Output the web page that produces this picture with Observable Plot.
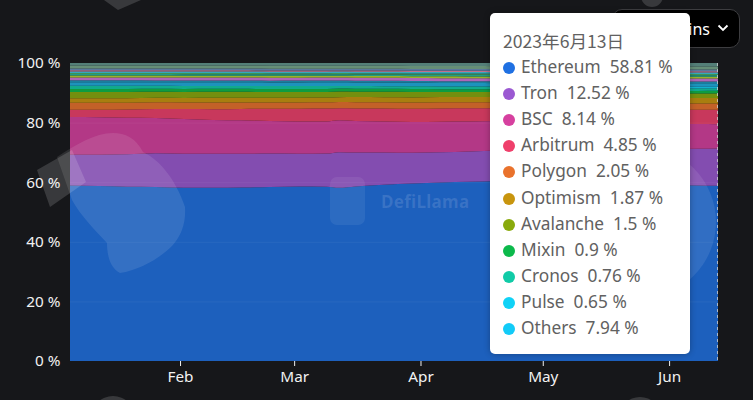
<!DOCTYPE html>
<html><head><meta charset="utf-8">
<script src="https://cdn.jsdelivr.net/npm/d3@7"></script>
<script src="https://cdn.jsdelivr.net/npm/@observablehq/plot@0.6"></script>
<style>
html,body{margin:0;padding:0;background:#16171a;}
#wrap{position:relative;width:753px;height:400px;overflow:hidden;font-family:"Noto Sans","Noto Sans CJK SC",sans-serif;}
#chart{position:absolute;left:0;top:0;}
#deco{position:absolute;left:0;top:0;pointer-events:none;}
#wm{position:absolute;left:330px;top:177px;width:150px;height:48px;pointer-events:none;}
#wm .logo{position:absolute;left:0;top:0;width:35px;height:48px;border-radius:7px;background:rgba(255,255,255,0.07);}
#wm .txt{position:absolute;left:51px;top:13px;font:700 17px "Noto Sans",sans-serif;color:rgba(255,255,255,0.13);letter-spacing:0.3px;}
#btn{position:absolute;left:612px;top:9px;width:128px;height:39px;border:1px solid #3d3d40;border-radius:10px;background:#000;color:#fff;font-size:16px;box-sizing:border-box;}
#btn .t{position:absolute;right:29px;top:8px;}
#btn svg{position:absolute;right:10px;top:14px;}
#tip{position:absolute;left:490px;top:13px;width:200px;height:341px;background:#fff;border-radius:5px;box-shadow:0 0 6px rgba(0,0,0,0.3);color:#616161;font-size:17.3px;}
#tip .date{position:absolute;left:13px;top:15px;line-height:26px;font-size:17.6px;font-family:"Noto Sans CJK SC","Noto Sans",sans-serif;}
#tip .row{position:absolute;left:13px;line-height:26px;white-space:pre;}
#tip .dot{display:inline-block;width:12px;height:12px;border-radius:50%;margin-right:6px;vertical-align:-1px;}
</style></head><body>
<div id="wrap">
  <div id="chart"></div>
  <svg id="deco" width="753" height="400">
    <g fill="#fff">
      <path fill-opacity="0.1" d="M57 157 C75 145 95 133 113 133 C125 133 136 138 143 152 C160 160 176 180 185 207 C186 222 182 235 172 246 C160 258 140 270 120 273 C110 268 107 255 107 243 C95 230 80 215 72 200 Z"/>
      <polygon fill-opacity="0.15" points="37,170 72,150 86,182 50,207"/>
      <circle fill-opacity="0.09" cx="640" cy="222" r="76"/>
      <circle fill-opacity="0.15" cx="113" cy="418" r="22"/>
      <circle fill-opacity="0.15" cx="640" cy="418" r="21"/>
      <polygon fill-opacity="0.15" points="104,0 141,0 118,10"/>
      <circle fill-opacity="0.15" cx="652" cy="-4" r="11"/>
    </g>
  </svg>
  <div id="wm"><div class="logo"></div><div class="txt">DefiLlama</div></div>
  <div id="btn"><span class="t">Chains</span><svg width="12" height="8" viewBox="0 0 12 8"><path d="M1.5 1.5 L6 6 L10.5 1.5" fill="none" stroke="#fff" stroke-width="1.8"/></svg></div>
  <div id="tip"></div>
</div>
<script>
// ---- data (percent share of stablecoin mcap) ----
const dates = ["2023-01-05","2023-01-12","2023-01-19","2023-01-26","2023-02-02","2023-02-09","2023-02-16","2023-02-23","2023-03-02","2023-03-09","2023-03-12","2023-03-16","2023-03-23","2023-03-30","2023-04-06","2023-04-13","2023-04-20","2023-04-27","2023-05-04","2023-05-11","2023-05-18","2023-05-25","2023-06-01","2023-06-08","2023-06-13"];
const ethereum  = [58.6,58.4,58.2,58.0,57.8,57.9,58.0,58.2,58.4,58.5,58.3,58.6,59.0,59.3,59.5,59.6,59.8,60.0,60.0,59.8,59.5,59.2,59.0,58.9,58.81];
const tron      = [10.3,10.5,10.8,11.2,11.4,11.4,11.3,11.2,11.0,11.1,12.0,11.4,10.8,10.3,10.1,10.1,10.1,10.1,10.3,10.7,11.1,11.6,12.0,12.3,12.52];
const bsc       = [12.6,12.5,12.2,11.8,11.6,11.3,11.2,10.9,10.8,10.8,10.7,10.6,10.4,10.3,10.2,10.0,9.8,9.5,9.3,9.1,8.9,8.7,8.5,8.3,8.14];
const arbitrum  = [2.4,2.5,2.8,3.0,3.3,3.6,3.8,4.1,4.3,4.3,4.1,4.2,4.3,4.4,4.4,4.4,4.3,4.4,4.5,4.5,4.7,4.7,4.8,4.8,4.85];
const polygon   = [2.3,2.3,2.2,2.2,2.2,2.2,2.1,2.1,2.1,2.1,2.1,2.1,2.1,2.1,2.1,2.0,2.0,2.0,2.0,2.0,2.0,2.0,2.0,2.05,2.05];
const optimism  = [1.5,1.5,1.5,1.5,1.5,1.6,1.6,1.6,1.6,1.6,1.6,1.7,1.7,1.7,1.7,1.7,1.7,1.8,1.8,1.8,1.8,1.8,1.8,1.85,1.87];
const avalanche = [2.1,2.1,2.1,2.0,2.0,2.0,2.0,1.9,1.9,1.9,1.9,1.8,1.8,1.8,1.7,1.7,1.7,1.6,1.6,1.6,1.6,1.5,1.5,1.5,1.5];
const mixin     = [1.0,1.0,1.0,1.0,1.0,1.0,1.0,1.0,1.0,1.0,1.0,1.0,1.0,1.0,0.9,0.9,0.9,0.9,0.9,0.9,0.9,0.9,0.9,0.9,0.9];
const cronos    = [1.1,1.1,1.1,1.0,1.0,1.0,1.0,1.0,1.0,1.0,0.9,0.9,0.9,0.9,0.9,0.9,0.8,0.8,0.8,0.8,0.8,0.8,0.8,0.78,0.76];
const pulse     = [0,0,0,0,0,0,0,0,0,0,0,0,0,0,0,0,0,0,0,0,0.6,0.62,0.64,0.65,0.65];
// smaller chains grouped as "Others" in the tooltip (thin bands at the top)
const othersA = [1.2,1.2,1.2,1.2,1.2,1.2,1.2,1.2,1.2,1.2,1.2,1.2,1.2,1.2,1.2,1.2,1.2,1.2,1.2,1.2,1.15,1.15,1.15,1.15,1.15];
const othersB = [0.6,0.6,0.6,0.6,0.6,0.6,0.6,0.6,0.6,0.6,0.6,0.6,0.6,0.6,0.6,0.6,0.6,0.6,0.6,0.6,0.55,0.55,0.55,0.55,0.55];
const othersC = [1.0,1.0,1.0,1.0,1.0,1.0,1.0,1.0,1.0,1.0,1.0,1.0,1.0,1.0,1.0,1.0,1.0,1.0,1.0,1.0,1.0,1.0,1.0,1.0,1.0];
const othersD = [0.6,0.6,0.6,0.6,0.6,0.6,0.6,0.6,0.6,0.6,0.6,0.6,0.6,0.6,0.6,0.6,0.6,0.6,0.6,0.6,0.6,0.6,0.6,0.6,0.6];
const othersE = [0.5,0.5,0.5,0.5,0.5,0.5,0.5,0.5,0.5,0.5,0.5,0.5,0.5,0.5,0.5,0.5,0.5,0.5,0.5,0.5,0.5,0.5,0.5,0.5,0.5];
const othersF = [0.4,0.4,0.4,0.4,0.4,0.4,0.4,0.4,0.4,0.4,0.4,0.4,0.4,0.4,0.45,0.45,0.45,0.45,0.45,0.45,0.45,0.45,0.45,0.45,0.45];
const othersG = [0.5,0.5,0.5,0.5,0.5,0.5,0.5,0.5,0.5,0.5,0.5,0.5,0.5,0.5,0.5,0.5,0.5,0.5,0.5,0.5,0.5,0.5,0.5,0.5,0.5];
const othersH = [0.4,0.4,0.4,0.4,0.4,0.4,0.4,0.4,0.4,0.4,0.4,0.4,0.4,0.4,0.4,0.4,0.4,0.4,0.4,0.4,0.4,0.4,0.4,0.4,0.4];
const othersI = [0.6,0.6,0.6,0.6,0.6,0.6,0.6,0.6,0.6,0.6,0.6,0.6,0.6,0.6,0.6,0.6,0.6,0.6,0.6,0.6,0.6,0.6,0.6,0.6,0.6];
const othersJ = [1.0,1.0,1.0,1.0,1.0,1.0,1.0,1.0,1.0,1.0,1.0,1.0,1.0,1.0,1.0,1.0,1.0,1.0,1.0,1.0,1.0,1.0,1.0,1.0,1.0];
const othersK = [0.8,0.8,0.8,0.8,0.85,0.85,0.85,0.9,0.9,0.9,0.9,0.95,0.95,1.0,1.0,1.0,1.05,1.05,1.1,1.1,1.1,1.15,1.15,1.19,1.19];

const mainNames  = ["Ethereum","Tron","BSC","Arbitrum","Polygon","Optimism","Avalanche","Mixin","Cronos","Pulse"];
const mainValues = [ethereum,tron,bsc,arbitrum,polygon,optimism,avalanche,mixin,cronos,pulse];
const mainColors = ["#1f70e2","#9b59d2","#d6409f","#ef3f6b","#e9722c","#c8950e","#89aa0c","#0cb94b","#10cba7","#10d2f6"];
const otherNames  = ["o1","o2","o3","o4","o5","o6","o7","o8","o9","o10","o11"];
const otherValues = [othersA,othersB,othersC,othersD,othersE,othersF,othersG,othersH,othersI,othersJ,othersK];
const otherColors = ["#1eaee0","#1c96ba","#d078dc","#b6d42e","#22b89c","#44b062","#3ac8e2","#e484a6","#6a8cbc","#78a88c","#62968e"];
const othersColor = "#12cbf8";
const tipDate = "2023年6月13日";
const yTicks = [0,0.2,0.4,0.6,0.8,1];

// ---- build table ----
const names = mainNames.concat(otherNames);
const values = mainValues.concat(otherValues);
const colors = mainColors.concat(otherColors);
const rows = [];
names.forEach((n,i) => dates.forEach((d,j) => rows.push({series:n, date:new Date(d), value:values[i][j]})));
const endDate = new Date(dates[dates.length-1]);

const chart = Plot.plot({
  width: 753, height: 400,
  marginLeft: 70, marginRight: 35, marginTop: 63, marginBottom: 39,
  style: {background:"transparent", color:"#f2f2f2", fontSize:"15.3px", fontFamily:'"Noto Sans",sans-serif'},
  x: {type:"utc", domain:[new Date(dates[0]), endDate], ticks: d3.utcMonth.every(1), tickFormat: d3.utcFormat("%b"), tickSize:5, tickPadding:5, label:null},
  y: {domain:[0,1], ticks:yTicks, tickFormat: d => `${Math.round(d*100)} %`, tickSize:0, tickPadding:10, label:null},
  color: {domain:names, range:colors},
  marks: [
    Plot.areaY(rows, {x:"date", y:"value", z:"series", fill:"series", fillOpacity:0.82, offset:"normalize", order:names, curve:"monotone-x"}),
    Plot.ruleY(yTicks.slice(1,-1), {stroke:"#fff", strokeOpacity:0.05}),
    Plot.ruleX([endDate], {stroke:"#d0d0d0", strokeOpacity:0.8, strokeDasharray:"3,3", dx:-1})
  ]
});
document.getElementById("chart").appendChild(chart);

// ---- tooltip ----
const tip = document.getElementById("tip");
const fmt = v => String(+v.toFixed(2));
const d0 = document.createElement("div"); d0.className="date"; d0.textContent = tipDate; tip.appendChild(d0);
const tipItems = mainNames.map((n,i) => [n, mainValues[i][dates.length-1], mainColors[i]]);
tipItems.push(["Others", d3.sum(otherValues, a => a[dates.length-1]), othersColor]);
tipItems.forEach(([n,v,c],i) => {
  const r = document.createElement("div"); r.className="row"; r.style.top = (41 + i*26.1) + "px";
  const dot = document.createElement("span"); dot.className="dot"; dot.style.background=c;
  r.appendChild(dot);
  r.appendChild(document.createTextNode(`${n}  ${fmt(v)} %`));
  tip.appendChild(r);
});
</script>
</body></html>
